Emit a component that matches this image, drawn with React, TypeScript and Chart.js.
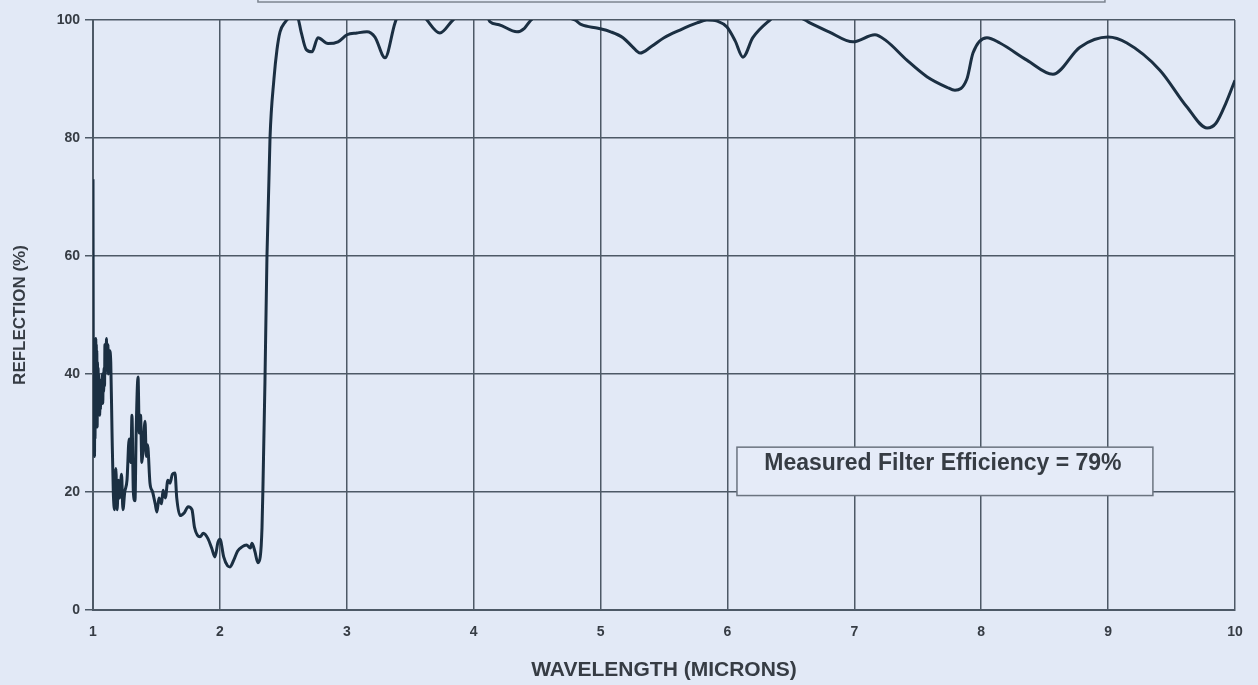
import React, { useEffect, useRef } from "react";
import { Chart, registerables } from "chart.js";

Chart.register(...registerables);

// Wavelength (microns)
const wavelength: number[] = [
  1.0, 1.002, 1.004, 1.006, 1.008, 1.01, 1.012, 1.014, 1.016, 1.018, 1.02, 1.022, 1.024, 1.026,
  1.028, 1.03, 1.033, 1.035, 1.038, 1.04, 1.043, 1.045, 1.048, 1.05, 1.053, 1.056, 1.059, 1.062,
  1.065, 1.068, 1.071, 1.074, 1.077, 1.08, 1.084, 1.087, 1.091, 1.094, 1.097, 1.1, 1.103, 1.106,
  1.109, 1.112, 1.115, 1.118, 1.121, 1.124, 1.127, 1.13, 1.14, 1.15, 1.16, 1.17,
  1.18, 1.19, 1.2, 1.21, 1.225, 1.236, 1.25, 1.268, 1.285, 1.298, 1.307, 1.318, 1.331, 1.34, 1.355,
  1.365, 1.375, 1.385, 1.394, 1.41, 1.42, 1.43, 1.449, 1.47, 1.49, 1.504, 1.52, 1.54, 1.552, 1.57,
  1.59, 1.607, 1.625, 1.646, 1.66, 1.686, 1.72, 1.75, 1.78, 1.8, 1.843, 1.87, 1.906, 1.935, 1.961,
  1.985, 2.001, 2.03, 2.06, 2.08, 2.11, 2.14, 2.174, 2.21, 2.24, 2.253, 2.275, 2.3, 2.318, 2.332,
  2.34, 2.355, 2.371, 2.395, 2.426, 2.45, 2.474, 2.51, 2.56, 2.61, 2.64, 2.68, 2.726, 2.773, 2.852,
  2.931, 3.002, 3.08, 3.159, 3.222, 3.301, 3.38, 3.42, 3.5, 3.6, 3.632, 3.734, 3.837, 3.9, 4.0,
  4.1, 4.128, 4.2, 4.341, 4.4, 4.444, 4.5, 4.6, 4.7, 4.798, 4.85, 4.98, 5.08, 5.177, 5.25, 5.311,
  5.4, 5.5, 5.626, 5.76, 5.838, 5.92, 5.996, 6.06, 6.122, 6.2, 6.335, 6.4, 6.5, 6.611, 6.65, 6.8,
  6.989, 7.162, 7.25, 7.414, 7.572, 7.73, 7.793, 7.887, 7.935, 8.045, 8.147, 8.36, 8.565, 8.778,
  9.0, 9.148, 9.408, 9.62, 9.78, 9.85, 9.93, 10.0,
];

// Reflection (%)
const reflection: number[] = [
  73, 45, 30, 40, 27, 42, 26, 44, 29, 43, 31, 46, 32, 45,
  34, 44, 31, 42, 33, 41, 34, 40, 35, 39, 33, 38, 34, 39,
  35, 38, 36, 40, 35, 39, 37, 41, 38, 45, 40, 44, 41, 46,
  42, 45, 41, 45, 40, 44, 41, 44, 42, 30, 20, 17,
  24, 17, 22, 19, 23, 17, 20, 22, 29, 25, 33, 20, 18.5, 30, 39.5,
  30, 33, 25, 27, 32, 26, 28, 21.5, 20, 18, 16.6, 19, 18, 20.3, 19,
  22, 21.5, 23, 23.2, 19, 16, 16.5, 17.5, 17, 14, 12.4, 13, 12.1, 10.5, 9,
  11.5, 12, 9, 7.5, 7.3, 8.5, 10, 10.7, 11, 10.5, 11.3, 10, 8, 9, 14,
  21.5, 38.5, 60, 80, 90, 95, 98, 99.5, 100.5, 100.5, 98, 95, 94.6, 97, 96,
  96.3, 97.5, 97.8, 98, 97.1, 93.6, 99.5, 101.5, 102, 101, 100, 97.8, 100, 101, 101.5,
  101, 99.7, 99.2, 98, 98.6, 99.8, 100.8, 101, 100.6, 100, 99.2, 98.6, 98, 97, 95.5, 94.4,
  95.5, 97, 98.3, 99.5, 100, 99.8, 98.8, 96.5, 93.7, 97, 100, 101, 101, 100, 99.5, 98,
  96.3, 97.5, 96.5, 93.2, 90.4, 88.6, 88.1, 90, 94.4, 97, 96.1, 93.2, 90.8, 95.4,
  97.1, 96.1, 91.5, 85.3, 81.7, 82.5, 86, 89.8,
];

const xTicks: number[] = [1, 2, 3, 4, 5, 6, 7, 8, 9, 10];
const yTicks: number[] = [0, 20, 40, 60, 80, 100];

const xTitle = "WAVELENGTH (MICRONS)";
const yTitle = "REFLECTION (%)";
const noteText = "Measured Filter Efficiency = 79%";

// annotation boxes in data coordinates
const noteBox = { x0: 6.075, x1: 9.353, y0: 27.6, y1: 19.4 };
const topBox = { x0: 2.3, x1: 8.975, yBottom: 103.05 };

const BG = "#e2e9f6";
const GRID = "#4d5966";
const LINE = "#1b2f42";
const TEXT = "#363c44";
const FONT = "'Liberation Sans', Arial, sans-serif";

const annotationPlugin = {
  id: "annots",
  afterDatasetsDraw(chart: any) {
    const { ctx, scales } = chart;
    const xs = scales.x;
    const ys = scales.y;
    ctx.save();
    // note box
    const l = xs.getPixelForValue(noteBox.x0);
    const r = xs.getPixelForValue(noteBox.x1);
    const t = ys.getPixelForValue(noteBox.y0);
    const b = ys.getPixelForValue(noteBox.y1);
    ctx.fillStyle = "#e5ebf8";
    ctx.fillRect(l, t, r - l, b - t);
    ctx.strokeStyle = "#6b7480";
    ctx.lineWidth = 1.5;
    ctx.strokeRect(l, t, r - l, b - t);
    ctx.fillStyle = TEXT;
    ctx.font = `bold 23px ${FONT}`;
    ctx.textAlign = "center";
    ctx.textBaseline = "middle";
    ctx.fillText(noteText, (l + r) / 2 - 2, t + 16);
    // top (cut-off) box
    const tl = xs.getPixelForValue(topBox.x0);
    const tr = xs.getPixelForValue(topBox.x1);
    const tb = ys.getPixelForValue(topBox.yBottom);
    ctx.strokeStyle = "#7d8590";
    ctx.lineWidth = 1.5;
    ctx.strokeRect(tl, -10, tr - tl, tb + 10);
    ctx.restore();
  },
};

export default function App() {
  const canvasRef = useRef<HTMLCanvasElement | null>(null);

  useEffect(() => {
    if (!canvasRef.current) return;
    const points = wavelength.map((w, i) => ({ x: w, y: reflection[i] }));
    const chart = new Chart(canvasRef.current, {
      type: "line",
      data: {
        datasets: [
          {
            data: points,
            borderColor: LINE,
            borderWidth: 3,
            pointRadius: 0,
            fill: false,
            cubicInterpolationMode: "monotone",
            clip: 0,
          } as any,
        ],
      },
      options: {
        animation: false,
        responsive: false,
        maintainAspectRatio: false,
        layout: { padding: { left: 0, top: 20, right: 23, bottom: 0 } },
        plugins: {
          legend: { display: false },
          tooltip: { enabled: false },
        },
        scales: {
          x: {
            type: "linear",
            min: 1,
            max: 10,
            afterBuildTicks: (scale: any) => {
              scale.ticks = xTicks.map((v) => ({ value: v }));
            },
            afterFit: (scale: any) => {
              scale.height = 75;
            },
            grid: { color: GRID, lineWidth: 1.5, drawTicks: false },
            border: { color: GRID, width: 2 },
            ticks: {
              padding: 14,
              color: TEXT,
              font: { family: FONT, size: 14, weight: "bold" },
              maxRotation: 0,
            },
            title: {
              display: true,
              text: xTitle,
              color: TEXT,
              font: { family: FONT, size: 21, weight: "bold" },
              padding: { top: 0, bottom: 2 },
            },
          },
          y: {
            type: "linear",
            min: 0,
            max: 100,
            afterBuildTicks: (scale: any) => {
              scale.ticks = yTicks.map((v) => ({ value: v }));
            },
            afterFit: (scale: any) => {
              scale.width = 93;
            },
            grid: { color: GRID, lineWidth: 1.5, tickLength: 8 },
            border: { color: GRID, width: 2 },
            ticks: {
              padding: 5,
              color: TEXT,
              font: { family: FONT, size: 14, weight: "bold" },
            },
            title: {
              display: true,
              text: yTitle,
              color: TEXT,
              font: { family: FONT, size: 17, weight: "bold" },
              padding: { top: 10, bottom: 0 },
            },
          },
        },
      },
      plugins: [annotationPlugin],
    });
    return () => chart.destroy();
  }, []);

  return (
    <div
      style={{
        position: "fixed",
        left: 0,
        top: 0,
        width: 1258,
        height: 685,
        background: BG,
      }}
    >
      <canvas ref={canvasRef} width={1258} height={685} style={{ display: "block" }} />
    </div>
  );
}
